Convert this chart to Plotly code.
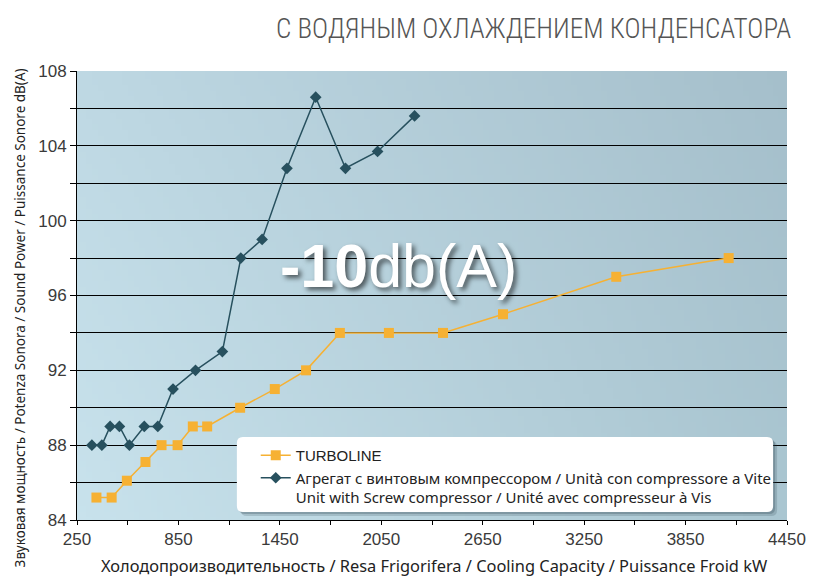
import base64
import struct
import zlib

import plotly.graph_objects as go

# Cooling capacity (kW) and sound power (dB(A))
turboline_kw = [365, 455, 545, 655, 750, 845, 935, 1020, 1215, 1420, 1605,
                1805, 2095, 2415, 2770, 3440, 4105]
turboline_db = [85.2, 85.2, 86.1, 87.1, 88, 88, 89, 89, 90, 91, 92,
                94, 94, 94, 95, 97, 98]

screw_kw = [338, 397, 446, 501, 560, 648, 728, 818, 951, 1110, 1219,
            1345, 1492, 1662, 1838, 2028, 2247]
screw_db = [88, 88, 89, 89, 88, 89, 89, 91, 92, 93, 98,
            99, 102.8, 106.6, 102.8, 103.7, 105.6]

x_tick_values = [250, 850, 1450, 2050, 2650, 3250, 3850, 4450]
y_tick_values = list(range(84, 109, 2))
y_tick_labels = [str(v) if v % 4 == 0 else "" for v in y_tick_values]

title_text = "С ВОДЯНЫМ ОХЛАЖДЕНИЕМ КОНДЕНСАТОРА"
x_title = "Холодопроизводительность / Resa Frigorifera / Cooling Capacity / Puissance Froid kW"
y_title = "Звуковая мощность / Potenza Sonora / Sound Power / Puissance Sonore dB(A)"
name_turbo = "TURBOLINE"
name_screw = ("Агрегат с винтовым компрессором / Unità con compressore a Vite<br>"
              "Unit with Screw compressor / Unité avec compresseur à Vis")
badge_text = "<b>-10</b>db(A)"

W, H = 818, 578
ML, MR, MT, MB = 77, 26, 71, 58
PW, PH = W - ML - MR, H - MT - MB


def px_to_paper(px, py):
    return (px - ML) / PW, (H - MB - py) / PH


def gradient_png(w, h, tl, tr, bl, br):
    """Small bilinear-gradient PNG, returned as a data URI."""
    raw = bytearray()
    for j in range(h):
        raw.append(0)
        v = j / (h - 1)
        for i in range(w):
            u = i / (w - 1)
            for c in range(3):
                top = tl[c] * (1 - u) + tr[c] * u
                bot = bl[c] * (1 - u) + br[c] * u
                raw.append(int(round(top * (1 - v) + bot * v)))

    def chunk(tag, data):
        return (struct.pack(">I", len(data)) + tag + data
                + struct.pack(">I", zlib.crc32(tag + data) & 0xFFFFFFFF))

    png = (b"\x89PNG\r\n\x1a\n"
           + chunk(b"IHDR", struct.pack(">IIBBBBB", w, h, 8, 2, 0, 0, 0))
           + chunk(b"IDAT", zlib.compress(bytes(raw), 9))
           + chunk(b"IEND", b""))
    return "data:image/png;base64," + base64.b64encode(png).decode()


bg_uri = gradient_png(120, 80,
                      (190, 216, 227), (165, 191, 203),
                      (200, 226, 236), (170, 198, 209))

ORANGE = "#F6B133"
TEAL = "#27505E"

fig = go.Figure()
fig.add_trace(go.Scatter(
    x=turboline_kw, y=turboline_db,
    name=f'<span style="font-family:Liberation Sans">{name_turbo}</span>',
    mode="lines+markers",
    line=dict(color=ORANGE, width=1.5),
    marker=dict(symbol="square", size=10, color=ORANGE),
))
fig.add_trace(go.Scatter(
    x=screw_kw, y=screw_db, name=name_screw,
    mode="lines+markers",
    line=dict(color=TEAL, width=1.5),
    marker=dict(symbol="diamond", size=9, color=TEAL),
))

# legend panel: soft shadow + white rounded box
lx0, ly0, lx1, ly1 = 238, 437, 778, 512


def rounded_rect(x0, y0, x1, y1, r):
    a0, b1 = px_to_paper(x0, y1)
    a1, b0 = px_to_paper(x1, y0)
    rx, ry = r / PW, r / PH
    return (f"M{a0 + rx},{b0} L{a1 - rx},{b0} Q{a1},{b0} {a1},{b0 - ry} "
            f"L{a1},{b1 + ry} Q{a1},{b1} {a1 - rx},{b1} L{a0 + rx},{b1} "
            f"Q{a0},{b1} {a0},{b1 + ry} L{a0},{b0 - ry} Q{a0},{b0} {a0 + rx},{b0} Z")


shapes = [
    dict(type="path", xref="paper", yref="paper", layer="above",
         path=rounded_rect(lx0 + 4, ly0 + 4, lx1 + 4, ly1 + 4, 6),
         fillcolor="rgba(40,60,70,0.18)", line=dict(width=0)),
    dict(type="path", xref="paper", yref="paper", layer="above",
         path=rounded_rect(lx0 + 2, ly0 + 2, lx1 + 2, ly1 + 2, 6),
         fillcolor="rgba(40,60,70,0.25)", line=dict(width=0)),
    dict(type="path", xref="paper", yref="paper", layer="above",
         path=rounded_rect(lx0, ly0, lx1, ly1, 6),
         fillcolor="white", line=dict(width=0)),
]

leg_x, leg_y = px_to_paper(257, 439)
bx, by = px_to_paper(401, 266)
yt_x, yt_y = px_to_paper(20, 318)
xt_x, xt_y = px_to_paper(437, 565)

fig.update_layout(
    width=W, height=H,
    margin=dict(l=ML, r=MR, t=MT, b=MB),
    paper_bgcolor="white",
    plot_bgcolor="#b6d1dc",
    showlegend=True,
    legend=dict(
        x=leg_x, y=leg_y, xanchor="left", yanchor="top",
        bgcolor="rgba(0,0,0,0)", borderwidth=0,
        font=dict(family="Noto Sans", size=15, color="#222"),
        valign="top", tracegroupgap=0,
    ),
    shapes=shapes,
    images=[dict(source=bg_uri, xref="paper", yref="paper", x=0, y=1,
                 sizex=1, sizey=1, sizing="stretch", layer="below",
                 xanchor="left", yanchor="top")],
    annotations=[
        dict(text=title_text, xref="paper", yref="paper",
             x=px_to_paper(798, 0)[0], y=px_to_paper(0, 29)[1],
             xanchor="right", yanchor="middle", showarrow=False,
             font=dict(family="Roboto Condensed, Liberation Sans Narrow, DejaVu Sans Condensed, Roboto",
                       size=27.2, color="#555555", weight=300)),
        dict(text=badge_text, xref="paper", yref="paper", x=bx, y=by,
             xanchor="center", yanchor="middle", showarrow=False,
             font=dict(family="Liberation Sans", size=61, color="white",
                       shadow="3px 3px 5px rgba(0,0,0,0.6)")),
        dict(text=y_title, xref="paper", yref="paper", x=yt_x, y=yt_y,
             xanchor="center", yanchor="middle", textangle=-90, showarrow=False,
             font=dict(family="Noto Sans", size=13.5, color="#222")),
        dict(text=x_title, xref="paper", yref="paper", x=xt_x, y=xt_y,
             xanchor="center", yanchor="middle", showarrow=False,
             borderpad=0,
             font=dict(family="Noto Sans", size=16.4, color="#222")),
    ],
)

fig.update_xaxes(
    range=[250, 4450],
    tickvals=x_tick_values,
    ticks="outside", ticklen=4, tickcolor="black",
    minor=dict(dtick=300, tick0=250, ticks="outside", ticklen=4, tickcolor="black"),
    showline=True, linecolor="black", linewidth=1,
    showgrid=False, zeroline=False,
    tickfont=dict(family="Liberation Sans", size=17, color="#3a3a3a"),
)
fig.update_yaxes(
    range=[84, 108],
    tickvals=y_tick_values, ticktext=y_tick_labels,
    ticks="outside", ticklen=6, tickcolor="black",
    showline=True, linecolor="black", linewidth=1,
    showgrid=True, gridcolor="black", gridwidth=1.4,
    zeroline=False,
    tickfont=dict(family="Liberation Sans", size=17, color="#3a3a3a"),
)

fig.write_html("out.html")
